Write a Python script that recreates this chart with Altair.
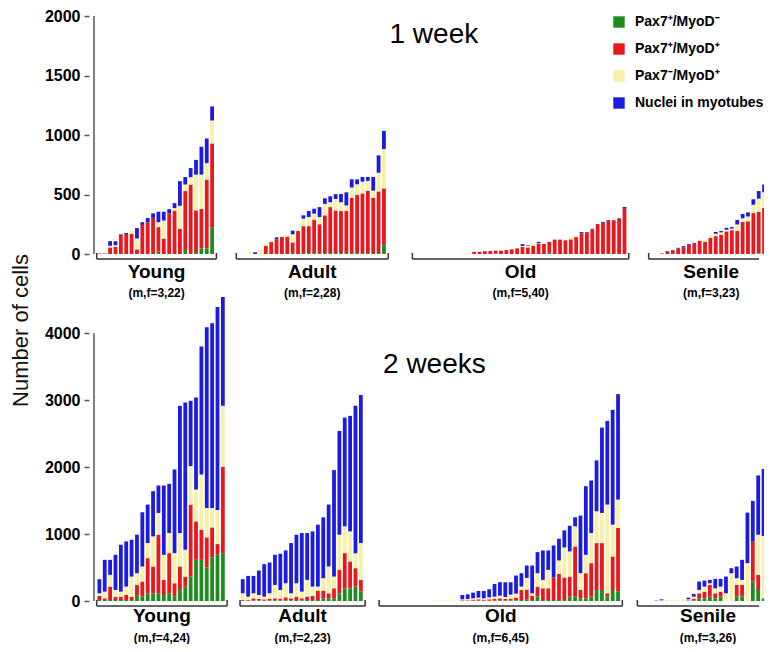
import altair as alt
import pandas as pd

FONT = "Liberation Sans, Arial, Helvetica, sans-serif"

CATS = ["Pax7⁺/MyoD⁻", "Pax7⁺/MyoD⁺", "Pax7⁻/MyoD⁺", "Nuclei in myotubes"]
COLORS = ["#1e8c1e", "#e8181c", "#f6f0a8", "#1c1ce0"]

# ---------------- 1 week ----------------
W1_YOUNG_G = [0,0,0,0,0,0,0,0,0,0, 0,19,0,0,0,0,33,0,17,47, 47,226]
W1_YOUNG_R = [3,3,55,60,160,168,168,39,245,267, 303,207,129,341,364,212,496,584,350,331, 579,703]
W1_YOUNG_Y = [0,0,14,14,0,0,30,91,0,0, 0,41,152,0,22,193,55,61,300,289, 138,193]
W1_YOUNG_B = [2,2,39,33,5,8,0,88,22,36, 39,88,74,36,41,207,63,77,124,234, 207,118]

W1_ADULT_G = [0,0,0,0,0,0,0,0,0,0, 9,0,8,8,8,8,8,8,8,8, 8,8,8,8,8,8,8,83]
W1_ADULT_R = [0,0,0,0,0,69,100,123,144,146, 88,193,226,226,281,242,317,386,358,353, 353,463,490,501,523,463,518,468]
W1_ADULT_Y = [3,3,22,0,36,22,10,0,10,17, 69,0,63,77,50,61,96,41,96,74, 47,88,88,99,83,61,157,331]
W1_ADULT_B = [0,0,0,14,0,0,0,17,0,0, 30,0,28,50,41,83,47,50,41,69, 110,69,41,39,33,116,146,152]

W1_OLD_G = [0,0,0,0,0,0,0,0,0,0, 0,0,0,0,0,3,0,0,0,0, 0,0,0,0,0,10,0,0,0,0, 0,0,0,0,0,0,8,0,0,0]
W1_OLD_R = [0,0,0,0,0,0,0,0,0,0, 0,19,19,22,25,25,28,33,39,47, 60,55,70,85,84,92,121,121,116,123, 142,174,184,205,253,262,270,285,295,380]
W1_OLD_Y = [0,0,0,0,0,0,0,0,0,5, 5,0,0,0,0,0,0,0,0,0, 8,14,18,5,10,0,0,0,5,20, 15,0,0,0,0,0,0,5,0,0]
W1_OLD_B = [0,0,0,0,0,0,0,0,0,0, 0,0,0,3,0,0,0,0,0,0, 15,5,0,12,0,0,0,0,0,0, 0,10,0,7,0,8,7,0,5,15]

W1_SENILE_G = [0,0,0,0,0,0,0,0,0,0, 0,0,0,0,0,0,0,0,0,0, 5,8,10]
W1_SENILE_R = [0,0,5,20,28,45,58,75,86,110, 102,135,150,160,190,200,193,270,275,344, 350,380,420]
W1_SENILE_Y = [0,0,0,0,0,0,0,0,0,14, 14,22,20,22,14,14,55,30,40,70, 110,130,150]
W1_SENILE_B = [0,0,0,5,5,7,8,8,8,0, 0,0,15,11,16,12,39,36,35,46, 64,66,80]

# ---------------- 2 weeks ----------------
W2_YOUNG_G = [15,15,15,15,15,15,15,90,65,115, 115,115,90,115,65,165,215,365,615,615, 500,650,700,715]
W2_YOUNG_R = [60,25,200,50,50,75,50,150,225,525, 400,875,225,600,200,350,150,1075,575,450, 450,450,150,1290]
W2_YOUNG_Y = [40,100,175,100,75,125,300,175,225,225, 450,325,375,300,450,500,400,575,475,825, 440,290,510,910]
W2_YOUNG_B = [210,475,225,525,700,675,550,575,810,575, 675,410,1035,735,1250,1900,2200,975,1375,1910, 2700,2760,3030,1625]

W2_ADULT_G = [5,5,10,10,5,10,10,10,10,10, 15,10,15,15,15,40,40,40,115,190, 190,215,140]
W2_ADULT_R = [10,10,30,20,20,25,30,25,45,30, 50,30,50,60,140,115,75,150,350,525, 400,275,175]
W2_ADULT_Y = [100,50,75,60,40,80,200,130,210,75, 200,100,250,140,60,185,400,175,525,400, 450,225,550]
W2_ADULT_B = [210,310,260,365,485,460,450,540,490,750, 725,875,700,825,925,910,925,1590,1550,1625, 1725,2200,2210]

W2_OLD_G = [0,0,0,0,0,0,0,0,0,0, 0,0,0,0,0,0,0,5,5,5, 5,5,10,10,5,10,15,20,15,65, 15,15,15,15,15,65,65,40,40,65, 165,165,65,165,140]
W2_OLD_R = [0,0,0,0,0,0,0,0,0,0, 0,0,0,0,0,10,10,15,20,15, 20,25,30,20,30,40,150,150,60,150, 175,175,335,390,335,300,750,125,375,500, 700,700,50,500,950]
W2_OLD_Y = [0,0,0,0,0,0,0,0,0,0, 10,10,10,10,10,15,20,20,25,20, 30,35,40,30,60,60,50,175,40,200, 125,275,0,200,450,375,300,250,275,450, 475,450,1325,475,425]
W2_OLD_B = [0,0,0,0,0,0,0,0,0,0, 0,0,0,0,0,65,70,85,100,110, 120,190,200,220,185,270,200,185,415,315, 440,290,480,325,255,385,135,860,1025,785, 760,1275,1250,1715,1575]

W2_SENILE_G = [0,0,0,0,0,0,0,0,0,0, 10,40,40,65,40,65,0,0,65,65, 0,290,165,40,200,300]
W2_SENILE_R = [0,0,0,0,0,0,0,0,0,10, 25,75,100,175,75,75,0,0,175,175, 0,600,225,0,500,700]
W2_SENILE_Y = [0,0,0,5,10,15,15,15,25,15, 30,50,75,25,75,75,115,415,100,75, 565,0,600,930,700,800]
W2_SENILE_B = [0,0,0,5,15,0,0,0,0,25, 40,125,90,50,140,115,250,75,175,300, 755,605,885,1000,1000,1200]

GROUP_NAMES = ["Young", "Adult", "Old", "Senile"]
W1_SUBS = ["(m,f=3,22)", "(m,f=2,28)", "(m,f=5,40)", "(m,f=3,23)"]
W2_SUBS = ["(m,f=4,24)", "(m,f=2,23)", "(m,f=6,45)", "(m,f=3,26)"]

# layout: first-bar slot of every group (bar spacing = 1 slot)
W1_STARTS = [0.0, 26.0, 58.8, 102.8]
W2_STARTS = [0.0, 26.7, 52.6, 100.7]

W1_DATA = [(W1_YOUNG_G, W1_YOUNG_R, W1_YOUNG_Y, W1_YOUNG_B),
           (W1_ADULT_G, W1_ADULT_R, W1_ADULT_Y, W1_ADULT_B),
           (W1_OLD_G, W1_OLD_R, W1_OLD_Y, W1_OLD_B),
           (W1_SENILE_G, W1_SENILE_R, W1_SENILE_Y, W1_SENILE_B)]
W2_DATA = [(W2_YOUNG_G, W2_YOUNG_R, W2_YOUNG_Y, W2_YOUNG_B),
           (W2_ADULT_G, W2_ADULT_R, W2_ADULT_Y, W2_ADULT_B),
           (W2_OLD_G, W2_OLD_R, W2_OLD_Y, W2_OLD_B),
           (W2_SENILE_G, W2_SENILE_R, W2_SENILE_Y, W2_SENILE_B)]

PX_W = 675
X_DOMAIN = [-1, -1 + PX_W / 5.45]


def build(data, starts, subs):
    bars, groups, ends = [], [], []
    for name, sub, start, series in zip(GROUP_NAMES, subs, starts, data):
        n = len(series[0])
        for k, (cat, vals) in enumerate(zip(CATS, series)):
            for i, v in enumerate(vals):
                bars.append({"slot": start + i, "cat": cat, "k": k, "value": v})
        x1, x2 = start - 0.5, start + n - 0.2
        x2c = min(x2, X_DOMAIN[1])
        groups.append({"x1": x1, "x2": x2c, "xc": (x1 + x2) / 2, "name": name, "sub": sub})
        ends.append({"xe": x1})
        if x2 <= X_DOMAIN[1]:
            ends.append({"xe": x2})
    return pd.DataFrame(bars), pd.DataFrame(groups), pd.DataFrame(ends)


def row(data, starts, subs, ydom, yaxis_max, ystep, height, title_txt, title_xy,
        legend, ytitle, d1, d2, title_y):
    bdf, gdf, edf = build(data, starts, subs)
    xs = alt.Scale(domain=X_DOMAIN, nice=False, zero=False)
    axis = alt.Axis(values=list(range(0, yaxis_max + 1, ystep)), format="d", grid=False,
                    domain=False, tickSize=5,
                    labelFont=FONT, labelFontSize=16, labelFontWeight="bold", labelColor="#000",
                    labelPadding=4, tickColor="#555", tickWidth=1.5,
                    title=ytitle, titleFont=FONT, titleFontSize=22, titleFontWeight="normal",
                    titleColor="#111", titleAngle=270, titleAlign="center", titleBaseline="middle",
                    titleX=-69, titleY=title_y)
    if legend:
        leg = alt.Legend(orient="none", legendX=523, legendY=-1, title=None, symbolType="square",
                         symbolSize=130, symbolStrokeWidth=0, labelFont=FONT, labelFontSize=14,
                         labelFontWeight="bold", labelColor="#000", rowPadding=13, labelOffset=9)
    else:
        leg = None
    b = alt.Chart(bdf).mark_bar(size=3.8, clip=True).encode(
        x=alt.X("slot:Q", scale=xs, axis=None),
        y=alt.Y("value:Q", stack="zero", scale=alt.Scale(domain=[0, ydom], nice=False), axis=axis),
        color=alt.Color("cat:N", scale=alt.Scale(domain=CATS, range=COLORS), legend=leg),
        order=alt.Order("k:Q", sort="ascending"),
    )
    ax = alt.Chart(pd.DataFrame({"a": [0]})).mark_rule(color="#555", strokeWidth=1.5).encode(
        x=alt.datum(X_DOMAIN[0]), y=alt.datum(0), y2=alt.datum(yaxis_max))
    br = alt.Chart(gdf).mark_rule(color="#333", strokeWidth=1.5, yOffset=5).encode(
        x=alt.X("x1:Q", scale=xs), x2="x2:Q", y=alt.datum(0))
    be = alt.Chart(edf).mark_rule(color="#333", strokeWidth=1.5, yOffset=5, y2Offset=-1).encode(
        x=alt.X("xe:Q", scale=xs), y=alt.datum(0), y2=alt.datum(0))
    t1 = alt.Chart(gdf).mark_text(dy=d1, fontSize=19, fontWeight="bold", font=FONT,
                                  baseline="middle", color="#000").encode(
        x=alt.X("xc:Q", scale=xs), y=alt.datum(0), text="name:N")
    t2 = alt.Chart(gdf).mark_text(dy=d2, fontSize=12, fontWeight="bold", font=FONT,
                                  baseline="middle", color="#000").encode(
        x=alt.X("xc:Q", scale=xs), y=alt.datum(0), text="sub:N")
    tt = alt.Chart(pd.DataFrame({"t": [title_txt]})).mark_text(
        fontSize=28, font=FONT, baseline="middle", color="#000").encode(
        x=alt.datum(title_xy[0]), y=alt.datum(title_xy[1]), text="t:N")
    return alt.layer(b, ax, br, be, t1, t2, tt).properties(width=PX_W, height=height)


r1 = row(W1_DATA, W1_STARTS, W1_SUBS, 2000, 2000, 500, 238, "1 week", (62.3, 1840), True,
         None, 18, 39, 0)
r2 = row(W2_DATA, W2_STARTS, W2_SUBS, 4600, 4000, 1000, 308, "2 weeks", (62.4, 3522), False,
         "Number of cells", 15, 37, 37)

chart = alt.vconcat(r1, r2, spacing=39, bounds="flush").resolve_scale(
    x="independent", y="independent", color="independent"
).properties(
    padding={"left": 0, "top": 0, "right": 0, "bottom": 0},
    background="white",
).configure_view(stroke=None)

chart.save("out.html", embed_options={"renderer": "svg", "actions": False})
